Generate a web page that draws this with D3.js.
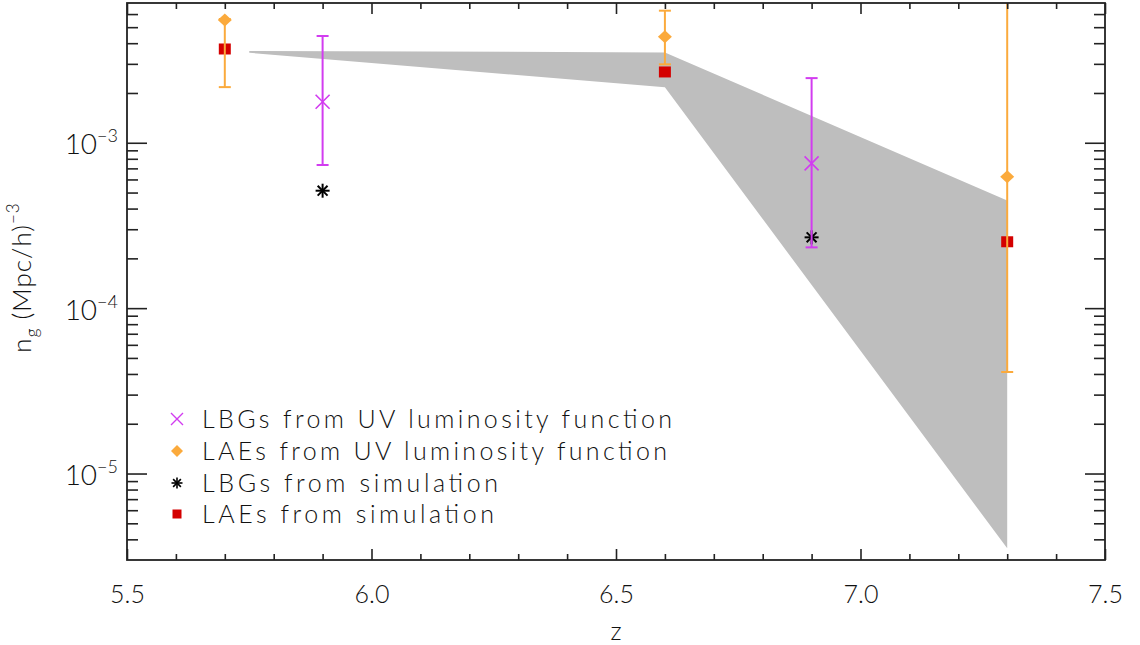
<!DOCTYPE html>
<html>
<head>
<meta charset="utf-8">
<script src="https://cdn.jsdelivr.net/npm/d3@7"></script>
<style>
  html, body { margin: 0; padding: 0; background: #fff; }
  svg { display: block; }
  text { font-family: "Lato", "DejaVu Sans", sans-serif; font-weight: 300; fill: #111; }
</style>
</head>
<body>
<svg id="chart" width="1140" height="645"></svg>
<script>
// Number density of galaxies versus redshift
const xDomain = [5.5, 7.5];
const yDomain = [3e-6, 7e-3];

const xMajorTicks = [5.5, 6.0, 6.5, 7.0, 7.5];
const xTickLabels = ["5.5", "6.0", "6.5", "7.0", "7.5"];
const xMinorTicks = [5.6, 5.7, 5.8, 5.9, 6.1, 6.2, 6.3, 6.4, 6.6, 6.7, 6.8, 6.9, 7.1, 7.2, 7.3, 7.4];
const yMajorTicks = [1e-5, 1e-4, 1e-3];
const yTickExponents = ["\u22125", "\u22124", "\u22123"];
const yMinorTicks = [4e-6, 5e-6, 6e-6, 7e-6, 8e-6, 9e-6,
  2e-5, 3e-5, 4e-5, 5e-5, 6e-5, 7e-5, 8e-5, 9e-5,
  2e-4, 3e-4, 4e-4, 5e-4, 6e-4, 7e-4, 8e-4, 9e-4,
  2e-3, 3e-3, 4e-3, 5e-3, 6e-3];

// LBGs from the UV luminosity function
const lbgUvZ = [5.9, 6.9];
const lbgUv = [1.77e-3, 7.5e-4];
const lbgUvLow = [7.34e-4, 2.33e-4];
const lbgUvHigh = [4.42e-3, 2.46e-3];

// LAEs from the UV luminosity function
const laeUvZ = [5.7, 6.6, 7.3];
const laeUv = [5.53e-3, 4.38e-3, 6.24e-4];
const laeUvLow = [2.17e-3, 2.98e-3, 4.11e-5];
const laeUvHigh = [5.6e-3, 6.29e-3, 1.0e-2];

// Simulation counts
const lbgSimZ = [5.9, 6.9];
const lbgSim = [5.13e-4, 2.68e-4];
const laeSimZ = [5.7, 6.6, 7.3];
const laeSim = [3.69e-3, 2.68e-3, 2.52e-4];

// Shaded allowed range
const bandZ = [5.75, 6.6, 7.3];
const bandHigh = [3.59e-3, 3.52e-3, 4.47e-4];
const bandLow = [3.50e-3, 2.165e-3, 3.53e-6];

const legendLabels = [
  "LBGs from UV luminosity function",
  "LAEs from UV luminosity function",
  "LBGs from simulation",
  "LAEs from simulation"
];

const colors = {
  lbgUv: "#d23cf0",
  laeUv: "#fbaa3c",
  lbgSim: "#000000",
  laeSim: "#d40000",
  band: "#bebebe",
  axis: "#222222"
};

const frame = { left: 127, right: 1105, top: 3, bottom: 560 };

const svg = d3.select("#chart");
const x = d3.scaleLinear().domain(xDomain).range([frame.left, frame.right]);
const y = d3.scaleLog().domain(yDomain).range([frame.bottom, frame.top]);

const clipId = "plot-clip";
svg.append("clipPath").attr("id", clipId)
  .append("rect")
  .attr("x", frame.left).attr("y", frame.top)
  .attr("width", frame.right - frame.left).attr("height", frame.bottom - frame.top);

const plot = svg.append("g").attr("clip-path", `url(#${clipId})`);

// shaded band
const bandData = bandZ.map((z, i) => ({ z, lo: bandLow[i], hi: bandHigh[i] }));
plot.append("path")
  .datum(bandData)
  .attr("fill", colors.band)
  .attr("d", d3.area().x(d => x(d.z)).y0(d => y(d.lo)).y1(d => y(d.hi)));

// red squares: LAEs from simulation
plot.selectAll("rect.laeSim")
  .data(laeSimZ.map((z, i) => ({ z, v: laeSim[i] })))
  .join("rect")
  .attr("class", "laeSim")
  .attr("x", d => x(d.z) - 6).attr("y", d => y(d.v) - 5.5)
  .attr("width", 12).attr("height", 11)
  .attr("fill", colors.laeSim);

// asterisks: LBGs from simulation
const asterisk = (g, size, w) => {
  const r = size / 2;
  for (let k = 0; k < 4; k++) {
    const a = k * Math.PI / 4;
    g.append("line")
      .attr("x1", -r * Math.cos(a)).attr("y1", -r * Math.sin(a))
      .attr("x2", r * Math.cos(a)).attr("y2", r * Math.sin(a))
      .attr("stroke", colors.lbgSim).attr("stroke-width", w);
  }
};
plot.selectAll("g.lbgSim")
  .data(lbgSimZ.map((z, i) => ({ z, v: lbgSim[i] })))
  .join("g")
  .attr("class", "lbgSim")
  .attr("transform", d => `translate(${x(d.z)},${y(d.v)})`)
  .each(function () { asterisk(d3.select(this), 14, 2); });

// error bars helper
const errorBars = (cls, zs, lows, highs, color, capW, w) => {
  const data = zs.map((z, i) => ({ z, lo: lows[i], hi: highs[i] }));
  const g = plot.selectAll("g." + cls).data(data).join("g").attr("class", cls);
  g.append("line")
    .attr("x1", d => x(d.z)).attr("x2", d => x(d.z))
    .attr("y1", d => y(d.lo)).attr("y2", d => y(d.hi))
    .attr("stroke", color).attr("stroke-width", w);
  g.append("line")
    .attr("x1", d => x(d.z) - capW / 2).attr("x2", d => x(d.z) + capW / 2)
    .attr("y1", d => y(d.lo)).attr("y2", d => y(d.lo))
    .attr("stroke", color).attr("stroke-width", w);
  g.append("line")
    .attr("x1", d => x(d.z) - capW / 2).attr("x2", d => x(d.z) + capW / 2)
    .attr("y1", d => y(d.hi)).attr("y2", d => y(d.hi))
    .attr("stroke", color).attr("stroke-width", w);
};

errorBars("laeUvErr", laeUvZ, laeUvLow, laeUvHigh, colors.laeUv, 12, 2);

// orange diamonds
plot.selectAll("path.laeUv")
  .data(laeUvZ.map((z, i) => ({ z, v: laeUv[i] })))
  .join("path")
  .attr("class", "laeUv")
  .attr("transform", d => `translate(${x(d.z)},${y(d.v)})`)
  .attr("d", "M0,-6.5L7,0L0,6.5L-7,0Z")
  .attr("fill", colors.laeUv);

errorBars("lbgUvErr", lbgUvZ, lbgUvLow, lbgUvHigh, colors.lbgUv, 12, 2);

// magenta crosses
plot.selectAll("path.lbgUv")
  .data(lbgUvZ.map((z, i) => ({ z, v: lbgUv[i] })))
  .join("path")
  .attr("class", "lbgUv")
  .attr("transform", d => `translate(${x(d.z)},${y(d.v)})`)
  .attr("d", "M-7,-7L7,7M-7,7L7,-7")
  .attr("fill", "none")
  .attr("stroke", colors.lbgUv).attr("stroke-width", 1.6);

// axes with inward ticks
const axisG = svg.append("g");
const styleAxis = g => {
  g.select(".domain").remove();
  g.selectAll(".tick line").attr("stroke", colors.axis).attr("stroke-width", 1.6);
};

axisG.append("g").attr("transform", `translate(0,${frame.bottom})`)
  .call(d3.axisBottom(x).tickValues(xMajorTicks).tickSizeInner(-11).tickSizeOuter(0)
    .tickPadding(25).tickFormat((d, i) => xTickLabels[i]))
  .call(styleAxis)
  .call(g => g.selectAll("text").attr("font-size", 25).attr("font-family", null).attr("fill", null));
axisG.append("g").attr("transform", `translate(0,${frame.bottom})`)
  .call(d3.axisBottom(x).tickValues(xMinorTicks).tickSizeInner(-6).tickSizeOuter(0).tickFormat(""))
  .call(styleAxis);
axisG.append("g").attr("transform", `translate(0,${frame.top})`)
  .call(d3.axisTop(x).tickValues(xMajorTicks).tickSizeInner(-11).tickSizeOuter(0).tickFormat(""))
  .call(styleAxis);
axisG.append("g").attr("transform", `translate(0,${frame.top})`)
  .call(d3.axisTop(x).tickValues(xMinorTicks).tickSizeInner(-6).tickSizeOuter(0).tickFormat(""))
  .call(styleAxis);

const yLeft = axisG.append("g").attr("transform", `translate(${frame.left},0)`)
  .call(d3.axisLeft(y).tickValues(yMajorTicks).tickSizeInner(-20).tickSizeOuter(0).tickFormat(""))
  .call(styleAxis);
axisG.append("g").attr("transform", `translate(${frame.left},0)`)
  .call(d3.axisLeft(y).tickValues(yMinorTicks).tickSizeInner(-11).tickSizeOuter(0).tickFormat(""))
  .call(styleAxis);
axisG.append("g").attr("transform", `translate(${frame.right},0)`)
  .call(d3.axisRight(y).tickValues(yMajorTicks).tickSizeInner(-20).tickSizeOuter(0).tickFormat(""))
  .call(styleAxis);
axisG.append("g").attr("transform", `translate(${frame.right},0)`)
  .call(d3.axisRight(y).tickValues(yMinorTicks).tickSizeInner(-11).tickSizeOuter(0).tickFormat(""))
  .call(styleAxis);

// power-of-ten labels on the left axis
yLeft.selectAll(".tick").each(function (d, i) {
  const t = d3.select(this).append("text")
    .attr("x", -9).attr("y", 11)
    .attr("text-anchor", "end")
    .attr("font-size", 28);
  t.append("tspan").text("10");
  t.append("tspan").attr("dy", -12).attr("font-size", 18).text(yTickExponents[i]);
});

// frame
svg.append("rect")
  .attr("x", frame.left).attr("y", frame.top)
  .attr("width", frame.right - frame.left).attr("height", frame.bottom - frame.top)
  .attr("fill", "none").attr("stroke", colors.axis).attr("stroke-width", 1.8);

// axis titles
svg.append("text")
  .attr("x", (frame.left + frame.right) / 2).attr("y", 640)
  .attr("text-anchor", "middle").attr("font-size", 25)
  .text("z");

const yTitle = svg.append("text")
  .attr("transform", `translate(31,${(frame.top + frame.bottom) / 2 - 4}) rotate(-90)`)
  .attr("text-anchor", "middle").attr("font-size", 26)
  .attr("letter-spacing", 1);
yTitle.append("tspan").text("n");
yTitle.append("tspan").attr("dy", 7).attr("font-size", 17).text("g");
yTitle.append("tspan").attr("dy", -7).text(" (Mpc/h)");
yTitle.append("tspan").attr("dy", -12).attr("font-size", 17).text("\u22123");

// legend
const legendBaselines = [428, 460, 492, 523];
const legendWidths = [470, 465, 296, 292];
const legend = svg.append("g");
legendLabels.forEach((label, i) => {
  const by = legendBaselines[i];
  const cy = by - 9;
  const sx = 177;
  const g = legend.append("g");
  if (i === 0) {
    g.append("path").attr("d", `M${sx - 6},${cy - 6}L${sx + 6},${cy + 6}M${sx - 6},${cy + 6}L${sx + 6},${cy - 6}`)
      .attr("stroke", colors.lbgUv).attr("stroke-width", 1.4).attr("fill", "none");
  } else if (i === 1) {
    g.append("path").attr("d", `M${sx},${cy - 6}L${sx + 6},${cy}L${sx},${cy + 6}L${sx - 6},${cy}Z`)
      .attr("fill", colors.laeUv);
  } else if (i === 2) {
    const a = g.append("g").attr("transform", `translate(${sx},${cy})`);
    asterisk(a, 11, 1.6);
  } else {
    g.append("rect").attr("x", sx - 4.5).attr("y", cy - 4.5).attr("width", 9).attr("height", 9)
      .attr("fill", colors.laeSim);
  }
  g.append("text")
    .attr("x", 202).attr("y", by)
    .attr("font-size", 25)
    .attr("textLength", legendWidths[i])
    .attr("lengthAdjust", "spacing")
    .text(label);
});
</script>
</body>
</html>
